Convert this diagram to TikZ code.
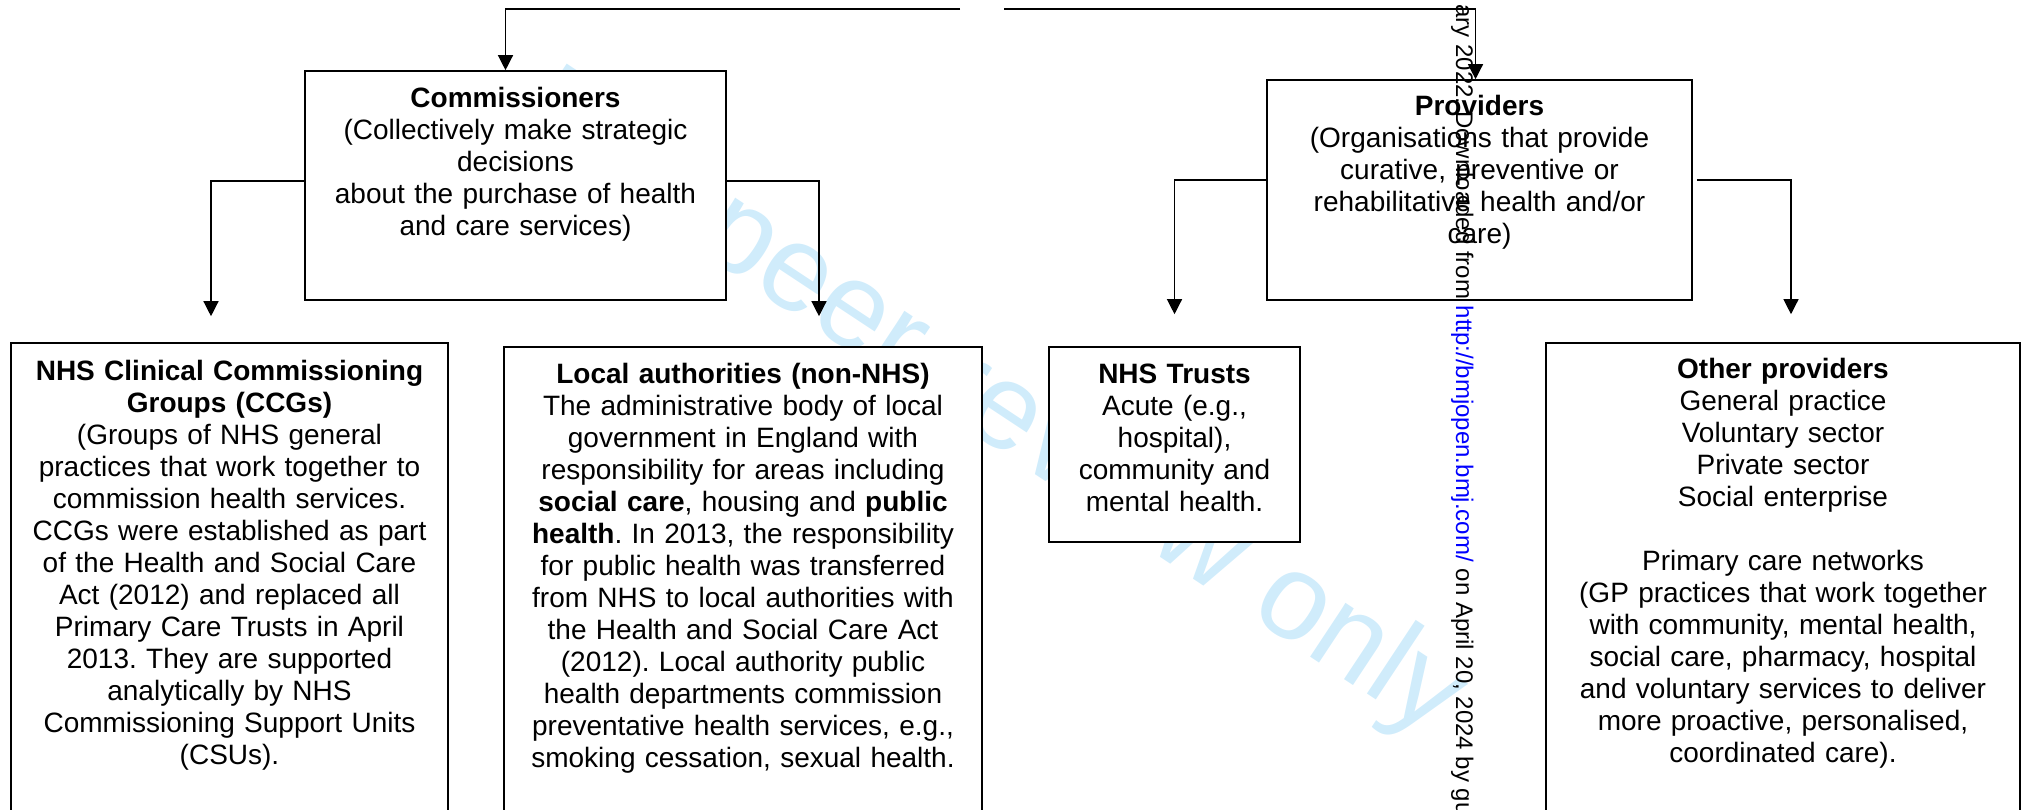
\documentclass[tikz,border=0pt]{standalone}
\usepackage{fontspec}
\setmainfont{Liberation Sans}
\usepackage{tikz}
\usetikzlibrary{arrows,arrows.meta,positioning,fit}
\usepackage{xcolor}
\definecolor{wmblue}{RGB}{208,236,251}
\definecolor{urlblue}{RGB}{0,0,255}
\tikzstyle{box} = [rectangle, draw=black, fill=white, line width=0.8pt, inner sep=0pt]
\tikzstyle{boxtext} = [align=center, anchor=base, inner sep=0pt, font=\fontsize{14}{16}\selectfont]
\tikzstyle{arrow} = [line width=0.65pt, -{Triangle[length=7.5pt,width=7.5pt]}]
\frenchspacing

\begin{document}
\begin{tikzpicture}[x=0.5pt, y=-0.5pt]
\useasboundingbox (0,0) rectangle (2024,809);

% Watermark, sits under the boxes
\node (wm) [anchor=base west, rotate=-33.5, inner sep=0pt, text=wmblue, font=\fontsize{61}{61}\selectfont] at (512,128) {For peer review only};

% Top row
\node (comm) [box, fit={(305,71) (726,300)}] {};
\node (prov) [box, fit={(1267,80) (1692,300)}] {};

% Bottom row (cut off at the page edge)
\node (ccg) [box, fit={(11,343) (448,830)}] {};
\node (la) [box, fit={(504,347) (982,830)}] {};
\node (ntr) [box, fit={(1049,347) (1300,542)}] {};
\node (oth) [box, fit={(1546,343) (2020,830)}] {};

% Connectors
\coordinate (rootl) at (960,9);
\coordinate (rootr) at (1004,9);
\draw[arrow] (rootl) -| ([xshift=-5pt]comm.north);
\draw[arrow] (rootr) -| ([xshift=-2pt]prov.north);
\draw[arrow, shorten >=13pt] ([yshift=2.25pt]comm.west) -| ([xshift=-9.25pt]ccg.north);
\draw[arrow, shorten >=15pt] ([yshift=2.25pt]comm.east) -| ([xshift=38pt]la.north);
\draw[arrow, shorten >=16pt] ([yshift=5pt]prov.west) -| (ntr.north);
\draw[arrow, shorten >=14pt] ([xshift=2pt, yshift=5pt]prov.east) -| ([xshift=4pt]oth.north);

% Box texts
\node (commtxt) [boxtext, text width=205pt] at (515.5,107) {\textbf{Commissioners}\\ (Collectively make strategic\\ decisions\\ about the purchase of health\\ and care services)};
\node (provtxt) [boxtext, text width=205pt] at (1479.5,115) {\textbf{Providers}\\ (Organisations that provide\\ curative, preventive or\\ rehabilitative health and/or\\ care)};
\node (ccgtxt) [boxtext, text width=212pt] at (229.5,380) {\textbf{NHS Clinical Commissioning}\\ \textbf{Groups (CCGs)}\\ (Groups of NHS general\\ practices that work together to\\ commission health services.\\ CCGs were established as part\\ of the Health and Social Care\\ Act (2012) and replaced all\\ Primary Care Trusts in April\\ 2013. They are supported\\ analytically by NHS\\ Commissioning Support Units\\ (CSUs).};
\node (latxt) [boxtext, text width=232pt] at (743,383) {\textbf{Local authorities (non-NHS)}\\ The administrative body of local\\ government in England with\\ responsibility for areas including\\ \textbf{social care}, housing and \textbf{public}\\ \textbf{health}. In 2013, the responsibility\\ for public health was transferred\\ from NHS to local authorities with\\ the Health and Social Care Act\\ (2012). Local authority public\\ health departments commission\\ preventative health services, e.g.,\\ smoking cessation, sexual health.};
\node (ntrtxt) [boxtext, text width=120pt] at (1174.5,383) {\textbf{NHS Trusts}\\ Acute (e.g.,\\ hospital),\\ community and\\ mental health.};
\node (othtxt) [boxtext, text width=230pt] at (1783,378) {\textbf{Other providers}\\ General practice\\ Voluntary sector\\ Private sector\\ Social enterprise\\[16pt] Primary care networks\\ (GP practices that work together\\ with community, mental health,\\ social care, pharmacy, hospital\\ and voluntary services to deliver\\ more proactive, personalised,\\ coordinated care).};

% Download note running down the page
\node (dl) [anchor=base west, rotate=-90, inner sep=0pt, font=\fontsize{12}{12}\selectfont] at (1456,4) {ary 2022. Downloaded from \textcolor{urlblue}{http://bmjopen.bmj.com/} on April 20, 2024 by gu};
\end{tikzpicture}
\end{document}
